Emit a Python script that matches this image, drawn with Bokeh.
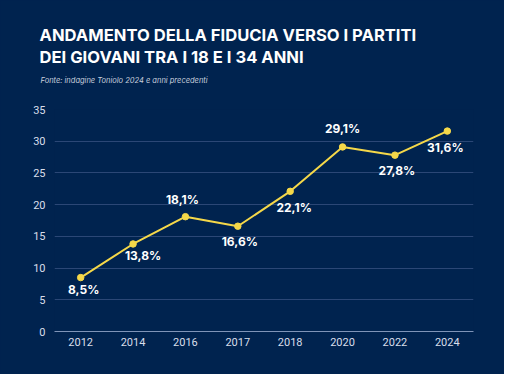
from bokeh.plotting import figure
from bokeh.models import ColumnDataSource, Title, FactorRange
from bokeh.core.properties import value
from bokeh.embed import file_html
from bokeh.resources import INLINE

years = ["2012", "2014", "2016", "2017", "2018", "2020", "2022", "2024"]
fiducia = [8.5, 13.8, 18.1, 16.6, 22.1, 29.1, 27.8, 31.6]
labels = ["8,5%", "13,8%", "18,1%", "16,6%", "22,1%", "29,1%", "27,8%", "31,6%"]
y_ticks = [0, 5, 10, 15, 20, 25, 30, 35]

title_1 = "ANDAMENTO DELLA FIDUCIA VERSO I PARTITI"
title_2 = "DEI GIOVANI TRA I 18 E I 34 ANNI"
source_note = "Fonte: indagine Toniolo 2024 e anni precedenti"

BG = "#00234f"
GRID = "#2b4776"
YELLOW = "#f5d849"
FONT = "Inter"
TICK_FONT = "Roboto"

# label placement (pixel offsets, screen y downward)
label_dx = [3, 10, -3, 2, 4, 0, 2, -2]
label_dy = [12, 12, -17, 15, 16, -18, 15, 16]

W, H = 504, 374
B_LEFT, B_RIGHT, B_TOP, B_BOTTOM = 54, 31, 109, 43
p = figure(x_range=FactorRange(*years), y_range=(0, 35), width=W, height=H,
           output_backend="svg", toolbar_location=None,
           min_border_left=B_LEFT, min_border_right=B_RIGHT,
           min_border_top=B_TOP, min_border_bottom=B_BOTTOM)
p.styles = {"background-color": BG}
p.background_fill_color = BG
p.border_fill_color = BG
p.outline_line_color = None
p.x_range.range_padding = 0

src = ColumnDataSource(dict(x=years, y=fiducia, lab=labels, dx=label_dx, dy=label_dy))
p.line("x", "y", source=src, line_color=YELLOW, line_width=2)
p.scatter("x", "y", source=src, size=6.5, fill_color=YELLOW, line_color=YELLOW)
p.text("x", "y", text="lab", source=src, x_offset="dx", y_offset="dy",
       text_color="white", text_font_size="12px", text_font_style="bold",
       text_align="center", text_baseline="middle", text_font=value(FONT))

p.yaxis.ticker = y_ticks
p.xaxis.axis_line_color = "#7f94b8"
p.yaxis.axis_line_color = None
for ax in (p.xaxis, p.yaxis):
    ax.major_tick_line_color = None
    ax.minor_tick_line_color = None
    ax.major_tick_out = 0
    ax.major_tick_in = 0
    ax.major_label_text_color = "#d8deea"
    ax.major_label_text_font = TICK_FONT
    ax.major_label_text_font_size = "11px"
p.yaxis.major_label_standoff = 9
p.xaxis.major_label_standoff = 6
p.xgrid.grid_line_color = None
p.ygrid.grid_line_color = GRID
p.ygrid.grid_line_width = 1

# titles stack outward from the frame in the order they are added;
# the first one is an invisible spacer between the frame and the source note
p.add_layout(Title(text=" ", standoff=15, text_font_size="1px",
                   text_color=BG), "above")
p.add_layout(Title(text=source_note, align="left", offset=-14, standoff=14,
                   text_color="#c8d0de", text_font=FONT, text_font_style="italic",
                   text_font_size="7.5px"), "above")
p.add_layout(Title(text=title_2, align="left", offset=-15, standoff=0,
                   text_color="white", text_font=FONT, text_font_style="bold",
                   text_font_size="16.6px"), "above")
p.add_layout(Title(text=title_1, align="left", offset=-15, standoff=0,
                   text_color="white", text_font=FONT, text_font_style="bold",
                   text_font_size="16.6px"), "above")

html = file_html(p, INLINE)
html = html.replace("<body>", '<body style="background:%s">' % BG, 1)
open("out.html", "w").write(html)
